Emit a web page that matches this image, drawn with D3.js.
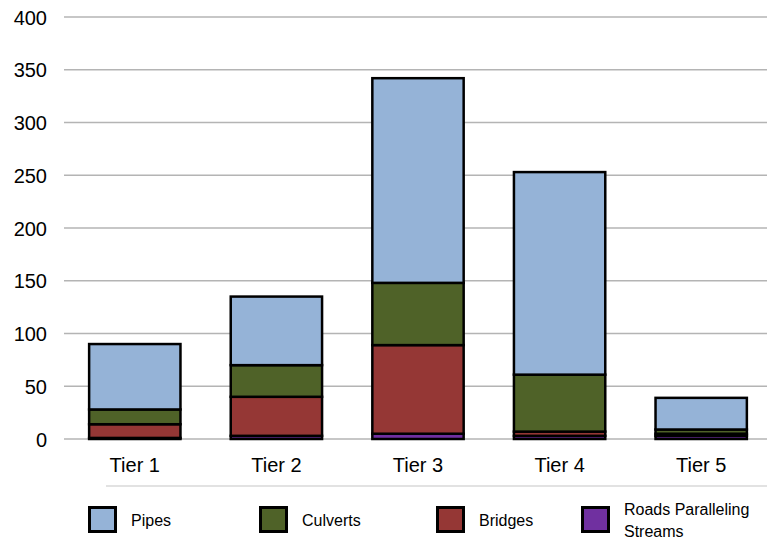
<!DOCTYPE html>
<html>
<head>
<meta charset="utf-8">
<script src="https://cdn.jsdelivr.net/npm/d3@7"></script>
<style>
  html, body { margin: 0; padding: 0; background: #fff; }
  svg { display: block; font-family: "Liberation Sans", Arial, sans-serif; }
</style>
</head>
<body>
<svg id="chart" width="779" height="544"></svg>
<script>
// Crossing counts per tier, stacked bottom to top
const tiers = ["Tier 1", "Tier 2", "Tier 3", "Tier 4", "Tier 5"];
const roads = [1, 3, 5, 3, 3];
const bridges = [13, 37, 84, 4, 2];
const culverts = [14, 30, 59, 54, 4];
const pipes = [62, 65, 194, 192, 30];
const yTicks = [0, 50, 100, 150, 200, 250, 300, 350, 400];

const seriesDefs = [
  { key: "roads", label: "Roads Paralleling Streams", values: roads, color: "#7030A0" },
  { key: "bridges", label: "Bridges", values: bridges, color: "#953735" },
  { key: "culverts", label: "Culverts", values: culverts, color: "#4F6228" },
  { key: "pipes", label: "Pipes", values: pipes, color: "#95B3D7" }
];

const rows = tiers.map((t, i) => {
  const r = { tier: t };
  seriesDefs.forEach(s => { r[s.key] = s.values[i]; });
  return r;
});

const svg = d3.select("#chart");
const plotLeft = 64, plotRight = 772, plotTop = 17, plotBottom = 439;

const x = d3.scaleBand().domain(tiers).range([plotLeft, plotRight])
  .paddingInner(0.355).paddingOuter(0.1775);
const y = d3.scaleLinear().domain([0, 400]).range([plotBottom, plotTop]);

// Horizontal gridlines
svg.append("g").selectAll("line").data(yTicks).join("line")
  .attr("x1", plotLeft).attr("x2", 767)
  .attr("y1", d => y(d)).attr("y2", d => y(d))
  .attr("stroke", "#B4B4B4").attr("stroke-width", 1.5);

// Y axis labels
const yAxis = d3.axisLeft(y).tickValues(yTicks).tickSize(0).tickPadding(0);
const yg = svg.append("g").attr("transform", `translate(47,0)`).call(yAxis);
yg.select(".domain").remove();
yg.selectAll("text").attr("font-size", 20).attr("fill", "#000")
  .attr("font-family", "Liberation Sans, Arial, sans-serif").attr("dy", "0.36em");

// Stacked bars
const stack = d3.stack().keys(seriesDefs.map(s => s.key));
const stacked = stack(rows);
const colorOf = Object.fromEntries(seriesDefs.map(s => [s.key, s.color]));

svg.append("g").selectAll("g").data(stacked).join("g")
  .attr("fill", d => colorOf[d.key])
  .selectAll("rect").data(d => d).join("rect")
  .attr("x", d => x(d.data.tier))
  .attr("width", x.bandwidth())
  .attr("y", d => y(d[1]))
  .attr("height", d => y(d[0]) - y(d[1]))
  .attr("stroke", "#000").attr("stroke-width", 2.5);

// X axis labels
const xAxis = d3.axisBottom(x).tickSize(0).tickPadding(0);
const xg = svg.append("g").attr("transform", `translate(0,458)`).call(xAxis);
xg.select(".domain").remove();
xg.selectAll("text").attr("font-size", 20).attr("fill", "#000")
  .attr("font-family", "Liberation Sans, Arial, sans-serif").attr("dy", "0.71em");

// Separator line above the legend
svg.append("line").attr("x1", 106).attr("x2", 767).attr("y1", 486).attr("y2", 486)
  .attr("stroke", "#D9D9D9").attr("stroke-width", 1.5);

// Legend
const legendItems = [
  { s: seriesDefs[3], x: 88, lines: ["Pipes"] },
  { s: seriesDefs[2], x: 259, lines: ["Culverts"] },
  { s: seriesDefs[1], x: 436, lines: ["Bridges"] },
  { s: seriesDefs[0], x: 581, lines: ["Roads Paralleling", "Streams"] }
];
const lg = svg.append("g").selectAll("g").data(legendItems).join("g")
  .attr("transform", d => `translate(${d.x},0)`);
lg.append("rect").attr("x", 1.5).attr("y", 507.5).attr("width", 26).attr("height", 24)
  .attr("fill", d => d.s.color).attr("stroke", "#000").attr("stroke-width", 3);
lg.each(function(d) {
  const g = d3.select(this);
  const n = d.lines.length;
  d.lines.forEach((ln, i) => {
    g.append("text")
      .attr("x", 43)
      .attr("y", n === 1 ? 526 : 515 + i * 22)
      .attr("font-size", 16).attr("fill", "#000")
      .text(ln);
  });
});
</script>
</body>
</html>
